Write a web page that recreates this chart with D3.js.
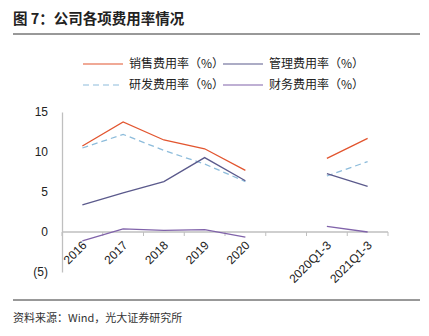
<!DOCTYPE html>
<html>
<head>
<meta charset="utf-8">
<script src="https://cdn.jsdelivr.net/npm/d3@7/dist/d3.min.js"></script>
<style>
  body { margin: 0; background: #fff; }
  svg { display: block; font-family: "Noto Sans CJK SC", "Noto Sans", sans-serif; }
</style>
</head>
<body>
<div id="chart"></div>
<script>
// categories (blank slot between 2020 and 2020Q1-3)
var categories = ["2016", "2017", "2018", "2019", "2020", "gap", "2020Q1-3", "2021Q1-3"];
var tickLabels = ["2016", "2017", "2018", "2019", "2020", "", "2020Q1-3", "2021Q1-3"];

// series values (%), null = no point
var sales   = [10.75, 13.75, 11.5, 10.4, 7.7, null, 9.2, 11.7];
var rnd     = [10.5, 12.2, 10.2, 8.5, 6.3, null, 7.0, 8.8];
var admin   = [3.4, 4.9, 6.3, 9.3, 6.4, null, 7.3, 5.7];
var finance = [-1.1, 0.4, 0.2, 0.3, -0.65, null, 0.7, 0.0];

var yTicks = [-5, 0, 5, 10, 15];

var seriesList = [
  {name: "销售费用率（%）", values: sales,   color: "#e2552f", dash: null},
  {name: "管理费用率（%）", values: admin,   color: "#5b5a8c", dash: null},
  {name: "研发费用率（%）", values: rnd,     color: "#8dbcdb", dash: "6,4"},
  {name: "财务费用率（%）", values: finance, color: "#8063aa", dash: null}
];

var W = 429, H = 336;
var margin = {top: 112, right: 41, bottom: 64, left: 62},
    width = W - margin.left - margin.right,
    height = H - margin.top - margin.bottom;

var svg = d3.select("#chart").append("svg")
    .attr("width", W)
    .attr("height", H);

// title and rules
svg.append("text")
    .attr("x", 13).attr("y", 24)
    .attr("font-size", 14.5).attr("font-weight", "bold")
    .attr("fill", "#222")
    .text("图 7：公司各项费用率情况");
svg.append("line")
    .attr("x1", 13).attr("x2", 420).attr("y1", 34).attr("y2", 34)
    .attr("stroke", "#333").attr("stroke-width", 1);
svg.append("line")
    .attr("x1", 13).attr("x2", 420).attr("y1", 300).attr("y2", 300)
    .attr("stroke", "#333").attr("stroke-width", 1);
svg.append("text")
    .attr("x", 13).attr("y", 322)
    .attr("font-size", 11).attr("fill", "#333")
    .text("资料来源：Wind，光大证券研究所");

// legend
var legendPos = [[83, 64], [223, 64], [83, 85], [223, 85]];
var legend = svg.selectAll(".legend")
    .data(seriesList)
  .enter().append("g")
    .attr("class", "legend")
    .attr("transform", function(d, i) { return "translate(" + legendPos[i][0] + "," + legendPos[i][1] + ")"; });
legend.append("line")
    .attr("x1", 0).attr("x2", 40)
    .attr("stroke", function(d) { return d.color; })
    .attr("stroke-width", 1.2)
    .attr("stroke-dasharray", function(d) { return d.dash; });
legend.append("text")
    .attr("x", 46).attr("dy", "0.35em")
    .attr("font-size", 12).attr("fill", "#222")
    .text(function(d) { return d.name; });

var g = svg.append("g")
    .attr("transform", "translate(" + margin.left + "," + margin.top + ")");

var x = d3.scaleBand()
    .domain(categories)
    .range([0, width]);
var y = d3.scaleLinear()
    .domain([-5, 15])
    .range([height, 0]);

// y axis
var yAxis = g.append("g")
    .call(d3.axisLeft(y).tickValues(yTicks).tickSize(0).tickPadding(14)
      .tickFormat(function(d) { return d < 0 ? "(" + Math.abs(d) + ")" : d; }));
yAxis.select(".domain").attr("stroke", "#bfbfbf").attr("stroke-width", 1.3);
yAxis.selectAll("text")
    .attr("font-size", 12).attr("fill", "#222")
    .attr("font-family", "Liberation Sans, Arial, sans-serif");

// x axis at zero
var xAxis = g.append("g")
    .attr("transform", "translate(0," + y(0) + ")")
    .call(d3.axisBottom(x).tickSize(0).tickFormat(function(d, i) { return tickLabels[i]; }));
xAxis.select(".domain").remove();
xAxis.append("line")
    .attr("x1", 0).attr("x2", width)
    .attr("stroke", "#bfbfbf").attr("stroke-width", 1.3);
// tick marks at band edges
xAxis.selectAll(".edge")
    .data(d3.range(categories.length + 1))
  .enter().append("line")
    .attr("class", "edge")
    .attr("x1", function(i) { return i * x.step(); })
    .attr("x2", function(i) { return i * x.step(); })
    .attr("y1", 0).attr("y2", 4)
    .attr("stroke", "#bfbfbf").attr("stroke-width", 1);
xAxis.selectAll(".tick text")
    .attr("font-size", 12).attr("fill", "#222")
    .attr("font-family", "Liberation Sans, Arial, sans-serif")
    .attr("text-anchor", "end")
    .attr("y", 0).attr("dy", 0)
    .attr("transform", "translate(5,14) rotate(-45)");

// lines
var line = d3.line()
    .defined(function(d) { return d != null; })
    .x(function(d, i) { return x(categories[i]) + x.bandwidth() / 2; })
    .y(function(d) { return y(d); });

g.selectAll(".series")
    .data([seriesList[2], seriesList[1], seriesList[3], seriesList[0]])
  .enter().append("path")
    .attr("class", "series")
    .attr("fill", "none")
    .attr("stroke", function(d) { return d.color; })
    .attr("stroke-width", 1.3)
    .attr("stroke-dasharray", function(d) { return d.dash; })
    .attr("d", function(d) { return line(d.values); });
</script>
</body>
</html>
